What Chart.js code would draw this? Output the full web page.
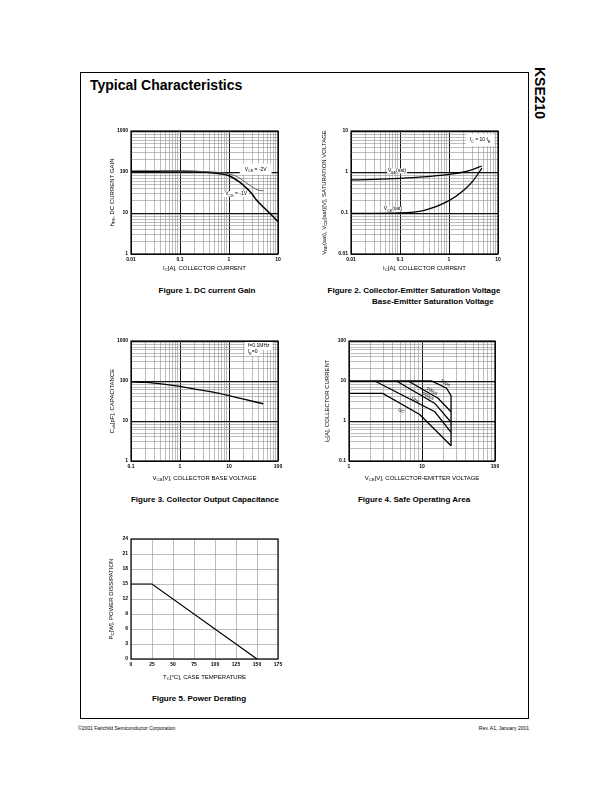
<!DOCTYPE html>
<html>
<head>
<meta charset="utf-8">
<title>KSE210 Typical Characteristics</title>
<script src="https://cdn.jsdelivr.net/npm/chart.js@4.4.1/dist/chart.umd.min.js"></script>
<style>
  body { margin: 0; width: 612px; height: 792px; position: relative; background: #fff; font-family: "Liberation Sans", Arial, sans-serif; color: #000; }
  .frame { position: absolute; left: 80px; top: 72px; width: 447px; height: 645px; border: 1px solid #000; }
  .title { position: absolute; left: 90px; top: 77px; font-size: 14px; font-weight: bold; line-height: 16px; }
  .part { position: absolute; left: 548px; top: 67px; font-size: 14px; font-weight: bold; line-height: 16px; transform: rotate(90deg); transform-origin: 0 0; white-space: nowrap; }
  .cap { position: absolute; font-size: 8px; font-weight: bold; line-height: 10px; white-space: nowrap; }
  .c { transform: translateX(-50%); }
  .foot { position: absolute; top: 725px; font-size: 5px; line-height: 6px; white-space: nowrap; }
  canvas { position: absolute; }
</style>
</head>
<body>
<div class="frame"></div>
<div class="title">Typical Characteristics</div>
<div class="part">KSE210</div>

<canvas id="gain" width="197" height="161" style="left:95px;top:123px"></canvas>
<canvas id="sat" width="197" height="161" style="left:315px;top:123px"></canvas>
<canvas id="cap" width="197" height="158" style="left:95px;top:333px"></canvas>
<canvas id="soa" width="196" height="158" style="left:313px;top:333px"></canvas>
<canvas id="derate" width="197" height="158" style="left:95px;top:531px"></canvas>

<div class="cap c" style="left:207px;top:286px">Figure 1. DC current Gain</div>
<div class="cap c" style="left:414px;top:286px">Figure 2. Collector-Emitter Saturation Voltage</div>
<div class="cap" style="left:372px;top:297px">Base-Emitter Saturation Voltage</div>
<div class="cap c" style="left:205px;top:495px">Figure 3. Collector Output Capacitance</div>
<div class="cap c" style="left:414px;top:495px">Figure 4. Safe Operating Area</div>
<div class="cap c" style="left:199px;top:694px">Figure 5. Power Derating</div>

<div class="foot" style="left:78px">©2001 Fairchild Semiconductor Corporation</div>
<div class="foot" style="right:83px">Rev. A1, January 2001</div>

<script>
// Figure 1: DC current gain vs collector current
const gainIc1V = [0.01, 0.03, 0.1, 0.3, 0.6, 1, 1.6, 2.2, 2.9, 3.6, 5, 7, 10];
const gainHfe1V = [105, 105, 104, 100, 92, 81, 58, 42, 30, 21, 14, 9.5, 6.2];
const gainIc2V = [0.04, 0.1, 0.3, 0.7, 1, 1.5, 2, 3, 4, 5];
const gainHfe2V = [105, 105, 103, 96, 90, 76, 60, 43, 36, 35];

// Figure 2: saturation voltages
const satIc = [0.01, 0.03, 0.1, 0.3, 1, 2, 3, 4.7];
const vbeSat = [0.64, 0.66, 0.70, 0.76, 0.88, 1.0, 1.15, 1.4];
const vceSat = [0.098, 0.098, 0.1, 0.115, 0.2, 0.36, 0.58, 1.25];

// Figure 3: output capacitance
const capVcb = [0.1, 0.2, 0.5, 1, 2, 5, 10, 20, 50];
const capCob = [95, 92, 82, 73, 63, 52, 43, 35, 27];

// Figure 4: safe operating area
const soaV50us = [1, 13.5, 21.7, 25, 25];
const soaI50us = [10, 10, 6.6, 4.3, 0.24];
const soaV100us = [6.45, 16.6, 25];
const soaI100us = [10, 3.7, 1.7];
const soaV500us = [4.47, 15, 25];
const soaI500us = [10, 2.75, 0.93];
const soaV1ms = [2.25, 15, 25];
const soaI1ms = [10, 1.7, 0.52];
const soaVdc = [1, 2.9, 9.3, 25];
const soaIdc = [4.9, 4.9, 1.45, 0.24];

// Figure 5: power derating
const caseTemp = [0, 25, 150];
const powerDiss = [15, 15, 0];

// tick values and labels
const icTicks = [0.01, 0.1, 1, 10];
const icTickLabels = ['0.01', '0.1', '1', '10'];
const hfeTicks = [1, 10, 100, 1000];
const hfeTickLabels = ['1', '10', '100', '1000'];
const vsatTicks = [0.01, 0.1, 1, 10];
const vsatTickLabels = ['0.01', '0.1', '1', '10'];
const vcbTicks = [0.1, 1, 10, 100];
const vcbTickLabels = ['0.1', '1', '10', '100'];
const cobTicks = [1, 10, 100, 1000];
const cobTickLabels = ['1', '10', '100', '1000'];
const vceTicks = [1, 10, 100];
const vceTickLabels = ['1', '10', '100'];
const icSoaTicks = [0.1, 1, 10, 100];
const icSoaTickLabels = ['0.1', '1', '10', '100'];
const tcTicks = [0, 25, 50, 75, 100, 125, 150, 175];
const tcTickLabels = ['0', '25', '50', '75', '100', '125', '150', '175'];
const pcTicks = [0, 3, 6, 9, 12, 15, 18, 21, 24];
const pcTickLabels = ['0', '3', '6', '9', '12', '15', '18', '21', '24'];

const FONT = '"Liberation Sans", Arial, sans-serif';

function isDecade(v) {
  const l = Math.log10(v);
  return Math.abs(l - Math.round(l)) < 1e-6;
}

// 1..9 x every decade between min and max
function logGrid(min, max) {
  const out = [];
  for (let d = min; d < max * 0.999; d *= 10) {
    for (let k = 1; k < 10; k++) out.push(Number((d * k).toPrecision(6)));
  }
  out.push(max);
  return out;
}

// text with _{sub} parts
function parseRich(str) {
  return str.split(/(_\{[^}]*\})/).filter(s => s).map(s =>
    s.startsWith('_{') ? { t: s.slice(2, -1), sub: true } : { t: s, sub: false });
}
function richWidth(ctx, str, size) {
  let w = 0;
  parseRich(str).forEach(s => {
    ctx.font = `${s.sub ? size * 0.72 : size}px ${FONT}`;
    w += ctx.measureText(s.t).width;
  });
  return w;
}
function drawRich(ctx, str, x, y, size, align) {
  const w = richWidth(ctx, str, size);
  let cx = align === 'center' ? x - w / 2 : align === 'right' ? x - w : x;
  ctx.textAlign = 'left';
  ctx.textBaseline = 'middle';
  parseRich(str).forEach(s => {
    ctx.font = `${s.sub ? size * 0.72 : size}px ${FONT}`;
    ctx.fillText(s.t, cx, y + (s.sub ? size * 0.32 : 0));
    cx += ctx.measureText(s.t).width;
  });
}

function axisOptions(dir, spec) {
  const vals = spec.ticks;
  const grid = spec.log ? logGrid(vals[0], vals[vals.length - 1]) : vals;
  const major = c => spec.log && c.tick && isDecade(c.tick.value);
  return {
    type: spec.log ? 'logarithmic' : 'linear',
    min: vals[0],
    max: vals[vals.length - 1],
    afterBuildTicks: s => { s.ticks = grid.map(v => ({ value: v })); },
    afterFit: s => {
      if (dir === 'x') s.height = 30; else s.width = 36;
      s.paddingLeft = s.paddingRight = s.paddingTop = s.paddingBottom = 0;
    },
    border: { display: false },
    grid: {
      drawTicks: false,
      color: c => major(c) ? '#111' : '#909090',
      lineWidth: c => major(c) ? 1 : 0.6
    },
    ticks: {
      autoSkip: false, maxRotation: 0, minRotation: 0,
      padding: 3, color: '#000',
      font: { family: FONT, size: 5, weight: 'bold' },
      callback: v => {
        const i = vals.findIndex(t => t === v || Math.abs(t - v) <= 1e-9 * Math.abs(t));
        return i < 0 ? '' : spec.labels[i];
      }
    }
  };
}

function series(xs, ys, extra) {
  return Object.assign({
    data: xs.map((x, i) => ({ x: x, y: ys[i] })),
    showLine: true,
    borderColor: '#000',
    borderWidth: 1.4,
    pointRadius: 0,
    tension: 0
  }, extra || {});
}

function decor(cfg) {
  return {
    id: 'decor',
    afterDatasetsDraw(chart) {
      const { ctx, chartArea: a, scales } = chart;
      ctx.save();
      (cfg.notes || []).forEach(n => {
        const size = n.size || 5;
        ctx.save();
        ctx.translate(scales.x.getPixelForValue(n.x), scales.y.getPixelForValue(n.y));
        if (n.rot) ctx.rotate(n.rot);
        const w = richWidth(ctx, n.text, size);
        const align = n.align || 'center';
        if (n.box) {
          const x0 = align === 'left' ? 0 : -w / 2;
          ctx.fillStyle = '#fff';
          ctx.fillRect(x0 - n.box[0], -n.box[1], w + 2 * n.box[0], 2 * n.box[1]);
        }
        ctx.fillStyle = '#000';
        drawRich(ctx, n.text, 0, 0, size, align);
        ctx.restore();
      });
      ctx.strokeStyle = '#000';
      ctx.lineWidth = 1.2;
      ctx.strokeRect(a.left, a.top, a.right - a.left, a.bottom - a.top);
      ctx.fillStyle = '#000';
      drawRich(ctx, cfg.xTitle, (a.left + a.right) / 2, a.bottom + cfg.xGap, 6, 'center');
      ctx.translate(a.left - cfg.yGap, (a.top + a.bottom) / 2);
      ctx.rotate(-Math.PI / 2);
      drawRich(ctx, cfg.yTitle, 0, 0, 6, 'center');
      ctx.restore();
    }
  };
}

function plot(id, cfg) {
  new Chart(document.getElementById(id), {
    type: 'scatter',
    data: { datasets: cfg.datasets },
    options: {
      responsive: false,
      animation: false,
      devicePixelRatio: 1,
      events: [],
      layout: { padding: { top: 8, right: 14, left: 0, bottom: 0 } },
      plugins: { legend: { display: false }, tooltip: { enabled: false } },
      scales: { x: axisOptions('x', cfg.x), y: axisOptions('y', cfg.y) }
    },
    plugins: [decor(cfg)]
  });
}

const smooth = { cubicInterpolationMode: 'monotone' };

plot('gain', {
  x: { log: true, ticks: icTicks, labels: icTickLabels },
  y: { log: true, ticks: hfeTicks, labels: hfeTickLabels },
  datasets: [
    series(gainIc2V, gainHfe2V, Object.assign({ borderColor: '#555', borderWidth: 0.9 }, smooth)),
    series(gainIc1V, gainHfe1V, Object.assign({ borderWidth: 1.5 }, smooth))
  ],
  xTitle: 'I_{C}[A], COLLECTOR CURRENT', xGap: 14,
  yTitle: 'h_{FE}, DC CURRENT GAIN', yGap: 19,
  notes: [
    { x: 3.5, y: 117, text: 'V_{CE} = -2V', box: [5, 5.5] },
    { x: 1.4, y: 29, text: 'V_{CE} = -1V', box: [1.5, 3] }
  ]
});

plot('sat', {
  x: { log: true, ticks: icTicks, labels: icTickLabels },
  y: { log: true, ticks: vsatTicks, labels: vsatTickLabels },
  datasets: [
    series(satIc, vbeSat, Object.assign({ borderWidth: 1.3 }, smooth)),
    series(satIc, vceSat, Object.assign({ borderWidth: 1.3 }, smooth))
  ],
  xTitle: 'I_{C}[A], COLLECTOR CURRENT', xGap: 14,
  yTitle: 'V_{BE}(sat), V_{CE}(sat)[V], SATURATION VOLTAGE', yGap: 27,
  notes: [
    { x: 4.3, y: 6.0, text: 'I_{C} = 10 I_{B}', box: [4, 6] },
    { x: 0.087, y: 1.06, text: 'V_{BE}(sat)', box: [1, 2.5] },
    { x: 0.072, y: 0.125, text: 'V_{CE}(sat)', box: [1, 2.5] }
  ]
});

plot('cap', {
  x: { log: true, ticks: vcbTicks, labels: vcbTickLabels },
  y: { log: true, ticks: cobTicks, labels: cobTickLabels },
  datasets: [
    series(capVcb, capCob, Object.assign({ borderWidth: 1.3 }, smooth))
  ],
  xTitle: 'V_{CB}[V], COLLECTOR BASE VOLTAGE', xGap: 17,
  yTitle: 'C_{ob}[pF], CAPACITANCE', yGap: 19,
  notes: [
    { x: 24.4, y: 750, text: 'f=0.1MHz', align: 'left', box: [3, 4] },
    { x: 24.4, y: 531, text: 'I_{E}=0', align: 'left', box: [3, 4] }
  ]
});

plot('soa', {
  x: { log: true, ticks: vceTicks, labels: vceTickLabels },
  y: { log: true, ticks: icSoaTicks, labels: icSoaTickLabels },
  datasets: [
    series(soaV50us, soaI50us, { borderWidth: 1.3 }),
    series(soaV100us, soaI100us, { borderWidth: 1.3 }),
    series(soaV500us, soaI500us, { borderWidth: 1.3 }),
    series(soaV1ms, soaI1ms, { borderWidth: 1.3 }),
    series(soaVdc, soaIdc, { borderWidth: 1.3 })
  ],
  xTitle: 'V_{CE}[V], COLLECTOR-EMITTER VOLTAGE', xGap: 17,
  yTitle: 'I_{C}[A], COLLECTOR CURRENT', yGap: 22,
  notes: [
    { x: 21, y: 8.9, text: '50μs', size: 4.5, rot: 0.5 },
    { x: 13.7, y: 5.6, text: '100μs', size: 4.5, rot: 0.5 },
    { x: 12.1, y: 4.2, text: '500μs', size: 4.5, rot: 0.5 },
    { x: 8.0, y: 3.35, text: '1ms', size: 4.5, rot: 0.5 },
    { x: 5.2, y: 1.78, text: 'DC', size: 4.5, rot: 0.5 }
  ]
});

plot('derate', {
  x: { log: false, ticks: tcTicks, labels: tcTickLabels },
  y: { log: false, ticks: pcTicks, labels: pcTickLabels },
  datasets: [
    series(caseTemp, powerDiss, { borderWidth: 1.2 })
  ],
  xTitle: 'T_{C}[°C], CASE TEMPERATURE', xGap: 18,
  yTitle: 'P_{C}[W], POWER DISSIPATION', yGap: 20
});
</script>
</body>
</html>
